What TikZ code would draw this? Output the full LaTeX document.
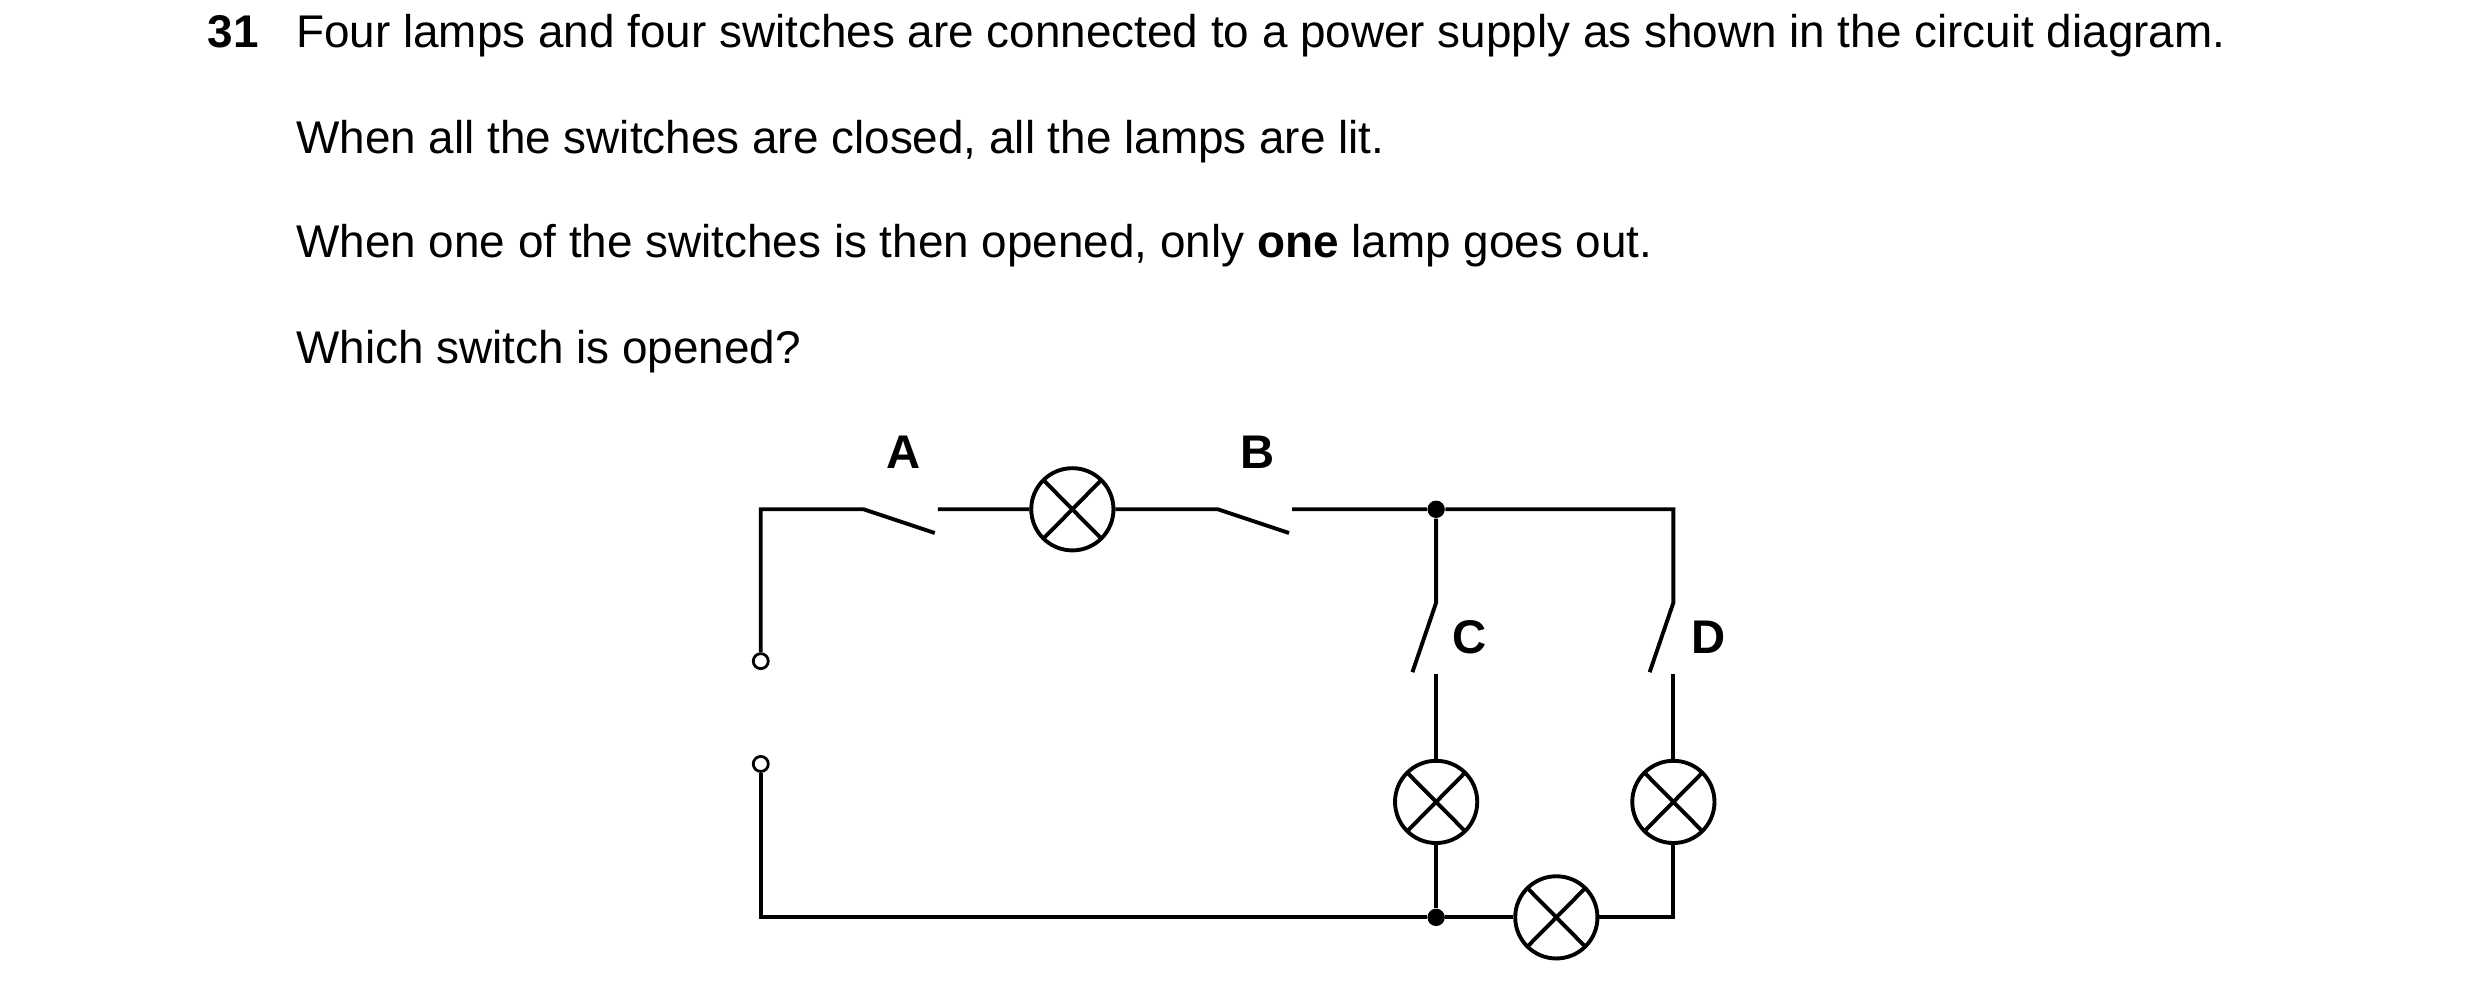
\documentclass[tikz,border=0pt]{standalone}
\usepackage{fontspec}
\setmainfont{Liberation Sans}
\begin{document}
\begin{tikzpicture}[x=0.02cm,y=-0.02cm,
  w/.style={line width=1.4pt},
  lamp/.style={circle,draw,line width=1.4pt,minimum size=1.04cm,inner sep=0pt,path picture={\draw[line width=1.4pt] (path picture bounding box.north west)++(0.15,-0.15) -- ([shift={(-0.15,0.15)}]path picture bounding box.south east); \draw[line width=1.4pt] ([shift={(0.15,0.15)}]path picture bounding box.south west) -- ([shift={(-0.15,-0.15)}]path picture bounding box.north east);}},
  term/.style={circle,draw,line width=1pt,minimum size=0.19cm,inner sep=0pt,fill=white},
  dot/.style={circle,fill,minimum size=0.22cm,inner sep=0pt},
  txt/.style={anchor=base west,inner sep=0pt,font=\fontsize{16.5}{20}\selectfont},
  lab/.style={font=\fontsize{17}{20}\selectfont\bfseries}]
\useasboundingbox (0,0) rectangle (1568,633);
\node[txt] (n) at (131,30) {\textbf{31}};
\node[txt] (t1) at (187,30) {Four lamps and four switches are connected to a power supply as shown in the circuit diagram.};
\node[txt] (t2) at (187,97) {When all the switches are closed, all the lamps are lit.};
\node[txt] (t3) at (187,163) {When one of the switches is then opened, only \textbf{one} lamp goes out.};
\node[txt] (t4) at (187,230) {Which switch is opened?};
% nodes
\node[lamp] (L1) at (678,322) {};
\node[lamp] (LC) at (908,507) {};
\node[lamp] (LD) at (1058,507) {};
\node[lamp] (LB) at (984,580) {};
\node[dot] (d1) at (908,322) {};
\node[dot] (d2) at (908,580) {};
\node[term] (T1) at (481,418) {};
\node[term] (T2) at (481,483) {};
\coordinate (c1) at (481,322);
\coordinate (c2) at (481,580);
\coordinate (c3) at (1058,322);
\coordinate (c4) at (1058,580);
\coordinate (a1) at (546,322); \coordinate (a2) at (591,337); \coordinate (a3) at (593,322);
\coordinate (b1) at (770,322); \coordinate (b2) at (815,337); \coordinate (b3) at (817,322);
\coordinate (cc1) at (908,381); \coordinate (cc2) at (893,425); \coordinate (cc3) at (908,426);
\coordinate (dd1) at (1058,381); \coordinate (dd2) at (1043,425); \coordinate (dd3) at (1058,426);
% wires
\draw[w] (T1) -- (c1) -- (a1) -- (a2);
\draw[w] (a3) -- (L1) -- (b1) -- (b2);
\draw[w] (b3) -- (d1) -- (c3) -- (dd1) -- (dd2);
\draw[w] (dd3) -- (LD) -- (c4) -- (LB) -- (d2) -- (c2) -- (T2);
\draw[w] (d1) -- (cc1) -- (cc2);
\draw[w] (cc3) -- (LC) -- (d2);
\node[lab] (A) at (571,286) {A};
\node[lab] (B) at (795,286) {B};
\node[lab] (C) at (929,403) {C};
\node[lab] (D) at (1080,403) {D};
\end{tikzpicture}
\end{document}
